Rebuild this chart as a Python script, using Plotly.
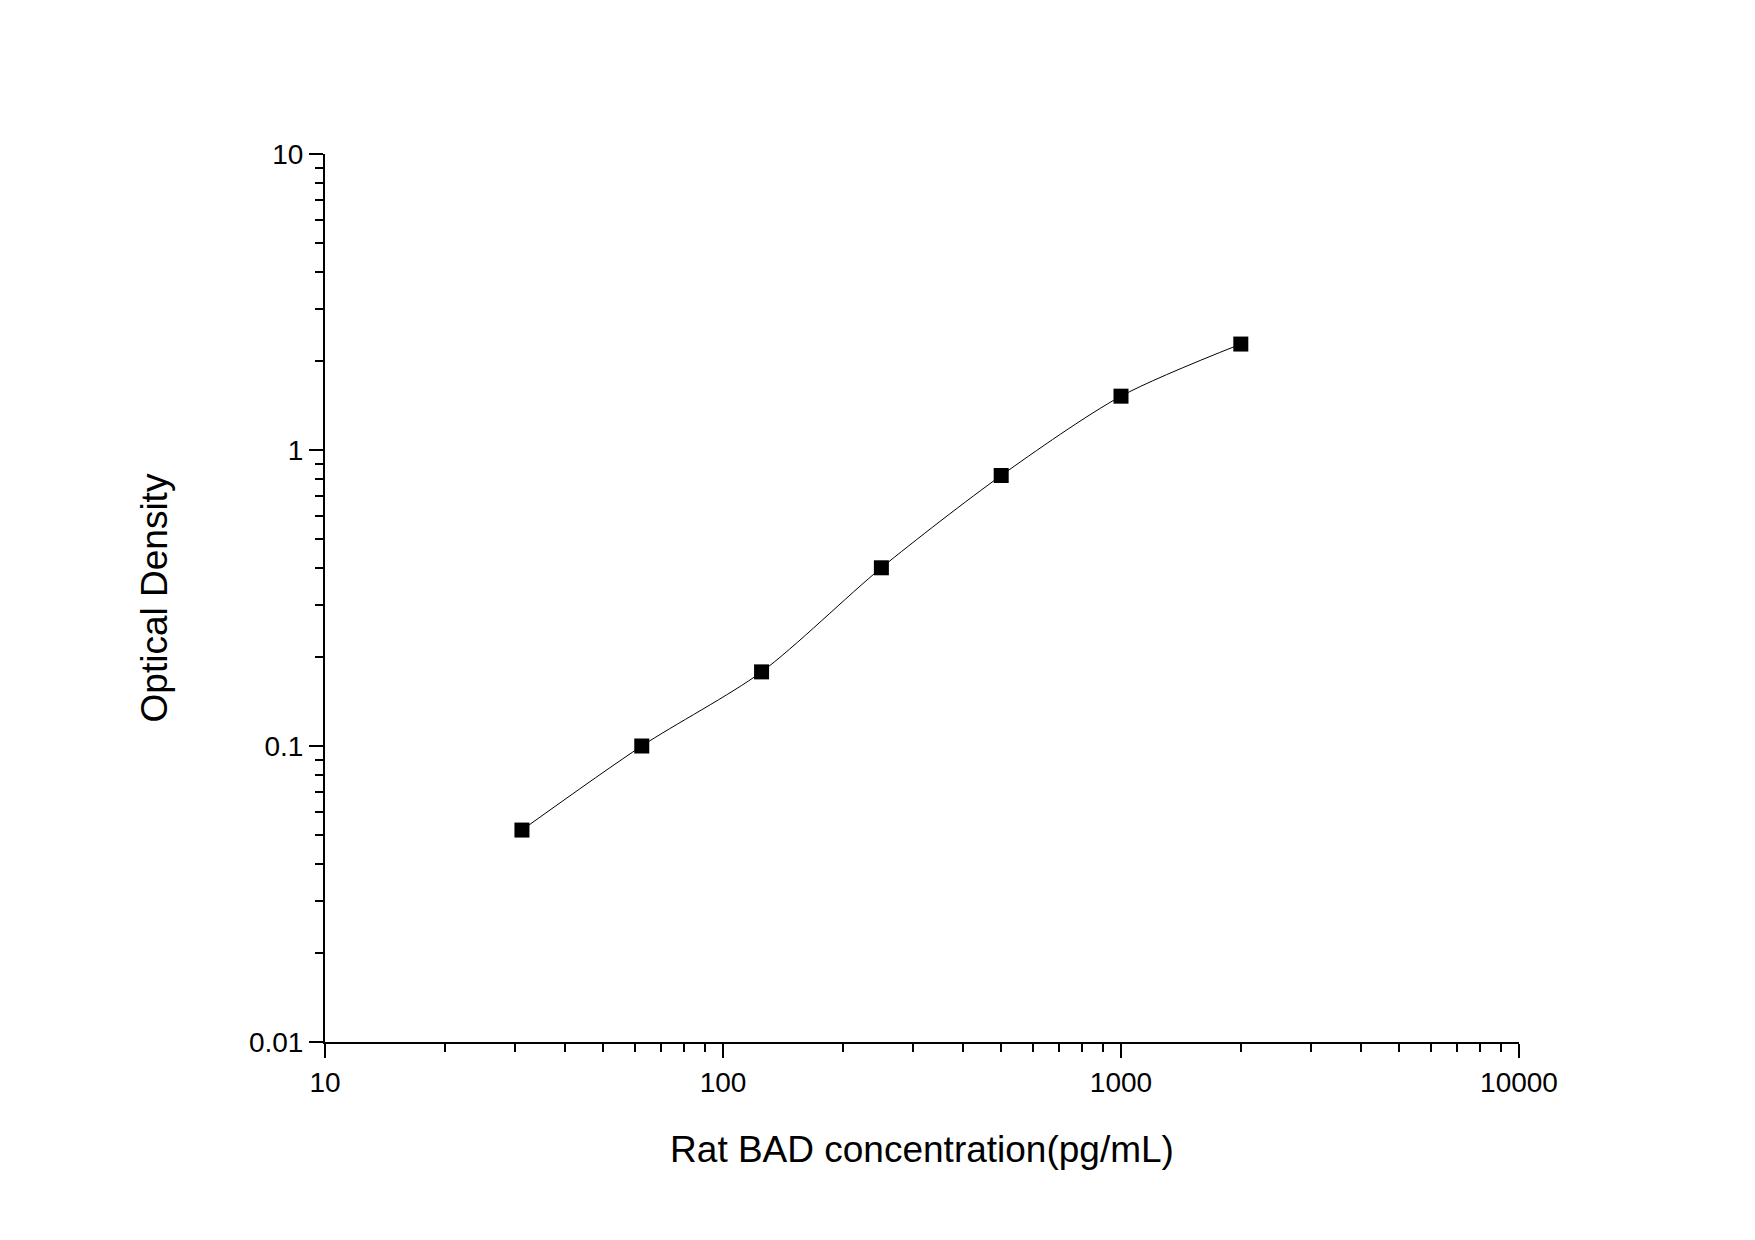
import plotly.graph_objects as go

conc = [31.25, 62.5, 125, 250, 500, 1000, 2000]
od = [0.052, 0.100, 0.178, 0.400, 0.820, 1.52, 2.28]

xminor = [m * 10**e for e in range(1, 4) for m in range(2, 10)]
yminor = [m * 10.0**e for e in range(-2, 1) for m in range(2, 10)]

fig = go.Figure()
fig.add_trace(go.Scatter(x=conc, y=od, mode="lines", line=dict(color="black", width=1, shape="spline", smoothing=0.8), showlegend=False))
fig.add_trace(go.Scatter(x=conc, y=od, mode="markers", marker=dict(symbol="square", size=15, color="black"), showlegend=False))

axcommon = dict(type="log", showgrid=False, zeroline=False, showline=True, linecolor="black", linewidth=2,
                ticks="outside", ticklen=14, tickwidth=2, tickcolor="black",
                tickfont=dict(family="Liberation Sans", size=28, color="black"),
                mirror=False)
fig.update_xaxes(**axcommon, range=[1, 4], tickvals=[10, 100, 1000, 10000], ticktext=["10", "100", "1000", "10000"],
                 minor=dict(tickmode="array", tickvals=xminor, ticks="outside", ticklen=8, tickwidth=2, tickcolor="black"),
                 title=dict(text="Rat BAD concentration(pg/mL)", font=dict(family="Liberation Sans", size=37, color="black"), standoff=40))
fig.update_yaxes(**axcommon, range=[-2, 1], tickvals=[0.01, 0.1, 1, 10], ticktext=["0.01", "0.1", "1", "10"],
                 minor=dict(tickmode="array", tickvals=yminor, ticks="outside", ticklen=8, tickwidth=2, tickcolor="black"),
                 title=dict(text="Optical Density", font=dict(family="Liberation Sans", size=37, color="black"), standoff=70))
fig.update_layout(width=1755, height=1240, margin=dict(l=317, r=244, t=146, b=206),
                  plot_bgcolor="white", paper_bgcolor="white")
fig.write_html("out.html")
